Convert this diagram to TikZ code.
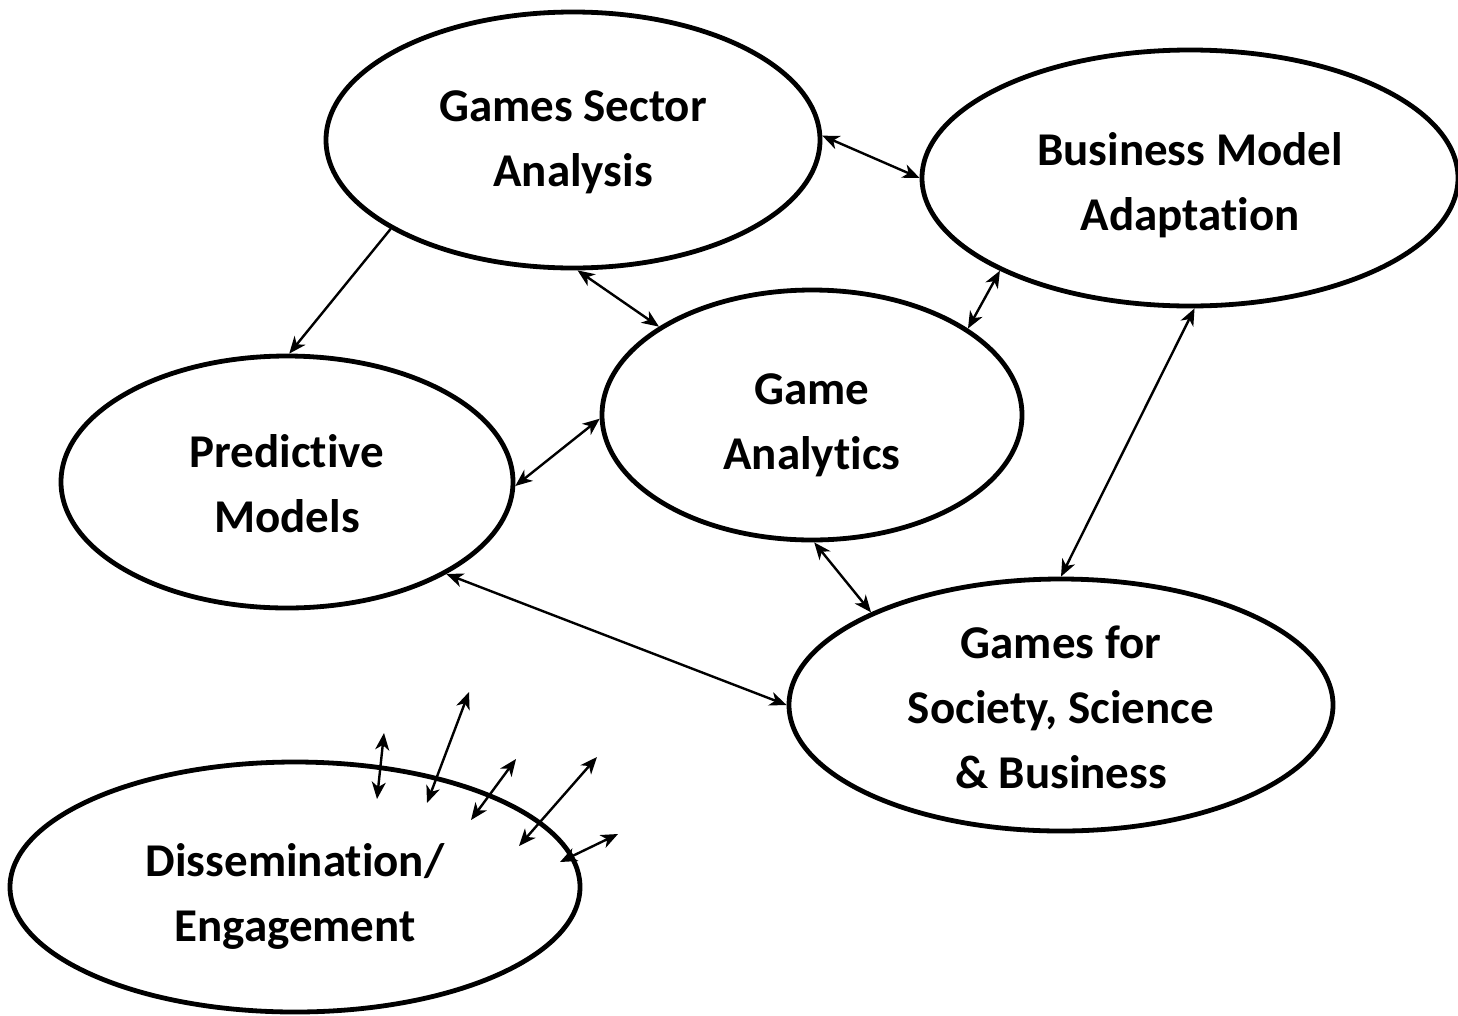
\documentclass[tikz,border=0pt]{standalone}
\usepackage{fontspec}
\setmainfont{Carlito}[Ligatures=NoCommon]
\usetikzlibrary{shapes.geometric,arrows.meta}

\begin{document}
\begin{tikzpicture}[x=1pt,y=-1pt,
  blob/.style={ellipse, draw=black, line width=4.8pt, inner sep=0pt},
  caption/.style={font=\fontsize{47}{65}\selectfont\bfseries, align=center, inner sep=0pt},
  link/.style={line width=2.4pt, {Stealth[length=17pt,width=14pt,inset=5pt]}-{Stealth[length=17pt,width=14pt,inset=5pt]}},
  onelink/.style={line width=2.4pt, -{Stealth[length=17pt,width=14pt,inset=5pt]}}
]
\useasboundingbox (0,0) rectangle (1458,1015);

% topic ellipses
\node[blob, minimum width=494pt, minimum height=256pt] (gsa) at (573,140) {};
\node[blob, minimum width=536pt, minimum height=256pt] (bma) at (1190,178) {};
\node[blob, minimum width=420pt, minimum height=250pt] (ga)  at (812,415) {};
\node[blob, minimum width=452pt, minimum height=252pt] (pm)  at (287,482) {};
\node[blob, minimum width=544pt, minimum height=252pt] (gsb) at (1061,705) {};
\node[blob, minimum width=570pt, minimum height=250pt] (de)  at (295,887) {};

% ellipse captions
\node[caption, yshift=-2pt]  (gsat) at (gsa) {Games Sector\\Analysis};
\node[caption, yshift=-7pt]  (bmat) at (bma) {Business Model\\Adaptation};
\node[caption, yshift=-10pt] (gat)  at (ga)  {Game\\Analytics};
\node[caption, yshift=-2pt]  (pmt)  at (pm)  {Predictive\\Models};
\node[caption, yshift=-2pt]  (gsbt) at (gsb) {Games for\\Society, Science\\\& Business};
\node[caption, yshift=-9pt]  (det)  at (de)  {Dissemination/\\Engagement};

% connectors between topics
\draw[link] (gsa.1) -- (bma.180);
\draw[onelink] (gsa.206) -- (pm.89);
\draw[link] (gsa.272) -- (ga.150);
\draw[link] (bma.206) -- (ga.29);
\draw[link] (pm.359) -- (ga.181);
\draw[link] (bma.272) -- (gsb.90);
\draw[link] (ga.271) -- (gsb.154);
\draw[link] (pm.330) -- (gsb.180);

% outreach arrows across the dissemination border
\coordinate (o1a) at (384,733); \coordinate (o1b) at (377,799);
\coordinate (o2a) at (469,692); \coordinate (o2b) at (427,803);
\coordinate (o3a) at (516,759); \coordinate (o3b) at (471,820);
\coordinate (o4a) at (597,757); \coordinate (o4b) at (519,846);
\coordinate (o5a) at (618,834); \coordinate (o5b) at (560,862);
\draw[link] (o1b) -- (o1a);
\draw[link] (o2b) -- (o2a);
\draw[link] (o3b) -- (o3a);
\draw[link] (o4b) -- (o4a);
\draw[link] (o5b) -- (o5a);
\end{tikzpicture}
\end{document}
